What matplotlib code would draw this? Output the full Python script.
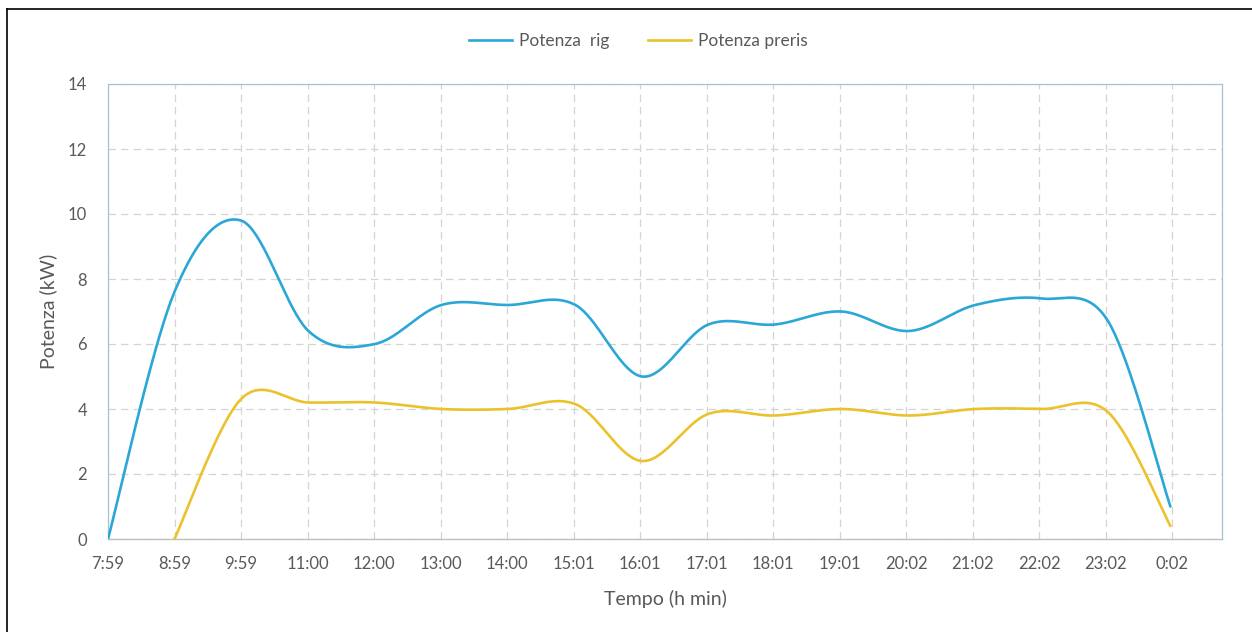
import numpy as np
import matplotlib.pyplot as plt
from matplotlib.lines import Line2D

# tick labels (scatter-style time axis, major unit ~1h)
tick_labels = ['7:59', '8:59', '9:59', '11:00', '12:00', '13:00', '14:00', '15:01',
               '16:01', '17:01', '18:01', '19:01', '20:02', '21:02', '22:02', '23:02', '0:02']

# sample times (h) and values (kW)
t_rig = [7.983, 8.983, 9.983, 11.0, 12.0, 13.0, 14.0, 15.017, 16.017, 17.017,
         18.017, 19.017, 20.033, 21.033, 22.033, 23.033, 23.97]
p_rig = [0.0, 7.6, 9.8, 6.4, 6.0, 7.2, 7.2, 7.2, 5.0, 6.6, 6.6, 7.0, 6.4, 7.2, 7.4, 6.7, 1.0]

t_preris = [8.983, 9.983, 11.0, 12.0, 13.0, 14.0, 15.017, 16.017, 17.017,
            18.017, 19.017, 20.033, 21.033, 22.033, 23.033, 23.97]
p_preris = [0.0, 4.3, 4.2, 4.2, 4.0, 4.0, 4.15, 2.4, 3.85, 3.8, 4.0, 3.8, 4.0, 4.0, 3.9, 0.4]


def smooth(xs, ys, n=40):
    # excel-like smoothed line: bezier segments, catmull-rom tangents
    p = np.column_stack([xs, ys]).astype(float)
    out = []
    for i in range(len(p) - 1):
        p0 = p[i - 1] if i > 0 else p[i]
        p1, p2 = p[i], p[i + 1]
        p3 = p[i + 2] if i + 2 < len(p) else p[i + 1]
        c1 = p1 + (p2 - p0) / 6
        c2 = p2 - (p3 - p1) / 6
        t = np.linspace(0, 1, n)[:, None]
        seg = (1 - t) ** 3 * p1 + 3 * (1 - t) ** 2 * t * c1 + 3 * (1 - t) * t ** 2 * c2 + t ** 3 * p2
        out.append(seg)
    out = np.vstack(out)
    return out[:, 0], out[:, 1]


blue = '#2aa7d6'
yellow = '#ecc22c'
txt = '#595959'
plt.rcParams['font.family'] = ['Lato', 'DejaVu Sans']

fig = plt.figure(figsize=(12.52, 6.32), dpi=100, facecolor='white')
ax = fig.add_axes([108 / 1252, 93 / 632, 1114 / 1252, 455 / 632])

x0 = 7 + 59 / 60
step = 1.0008
ticks = [x0 + k * step for k in range(len(tick_labels))]

xb, yb = smooth(t_rig, p_rig)
xy, yy = smooth(t_preris, p_preris)
ax.plot(xb, yb, color=blue, lw=1.9, solid_capstyle='round', zorder=3)
ax.plot(xy, yy, color=yellow, lw=1.9, solid_capstyle='round', zorder=3)

ax.set_xlim(x0, x0 + 16.75 * step)
ax.set_ylim(0, 14)
ax.set_xticks(ticks)
ax.set_xticklabels(tick_labels)
ax.set_yticks(range(0, 15, 2))
ax.tick_params(length=0, colors=txt, labelsize=12, pad=12)
ax.tick_params(axis='y', pad=15)

ax.grid(True, color='#d4d4d4', ls=(0, (6, 4)), lw=0.9)
for s in ['top', 'right', 'left']:
    ax.spines[s].set_color('#a8c0d0')
    ax.spines[s].set_linewidth(0.9)
ax.spines['bottom'].set_color('#bfbfbf')
ax.spines['bottom'].set_linewidth(1.0)

ax.set_xlabel('Tempo (h min)', color=txt, fontsize=14, labelpad=13)
ax.set_ylabel('Potenza (kW)', color=txt, fontsize=14, labelpad=8)

handles = [Line2D([], [], color=blue, lw=1.9), Line2D([], [], color=yellow, lw=1.9)]
fig.legend(handles, ['Potenza  rig', 'Potenza preris'], loc='center', bbox_to_anchor=(0.51, 0.935),
           ncol=2, frameon=False, fontsize=12.5, labelcolor=txt, handlelength=2.5,
           handletextpad=0.4, columnspacing=2.2)

# outer frame (cropped at right/bottom)
fig.add_artist(Line2D([7 / 1252, 1], [1 - 9 / 632, 1 - 9 / 632], color='black', lw=1.2))
fig.add_artist(Line2D([7 / 1252, 7 / 1252], [0, 1 - 9 / 632], color='black', lw=1.2))

fig.savefig('out.png', dpi=100)
